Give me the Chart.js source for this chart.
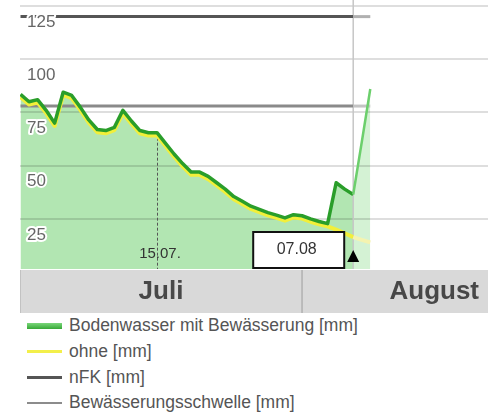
<!DOCTYPE html>
<html><head><meta charset="utf-8">
<script src="https://cdn.jsdelivr.net/npm/chart.js@4"></script>
<style>
html,body{margin:0;padding:0;background:#fff;}
#wrap{position:relative;width:488px;height:414px;overflow:hidden;background:#fff;}
canvas{display:block;}
#legend{position:absolute;left:0;top:313px;font-family:'Liberation Sans',Arial,sans-serif;font-size:17.5px;color:#555;}
.item{height:25.7px;display:flex;align-items:center;white-space:nowrap;}
.sw{display:inline-block;width:35px;margin-left:27px;margin-right:7px;}
</style></head>
<body><div id="wrap"><canvas id="c" width="488" height="313"></canvas><div id="legend"></div></div>
<script>
// ---- data ----
const dates = ['29.06','30.06','01.07','02.07','03.07','04.07','05.07','06.07','07.07','08.07','09.07','10.07','11.07','12.07','13.07','14.07','15.07','16.07','17.07','18.07','19.07','20.07','21.07','22.07','23.07','24.07','25.07','26.07','27.07','28.07','29.07','30.07','31.07','01.08','02.08','03.08','04.08','05.08','06.08','07.08','08.08','09.08'];
const withIrrigation = [83.5,80,81,76,70,84.5,83,77.5,71.5,67,66.5,68,76,71,66.5,65.5,65.5,60.5,55.5,51,47,47,45,42,39,35.5,33.3,31,29.5,28,26.8,25.5,27,26.5,25,23.8,22.8,42,39,36.5,61,86];
const withoutIrrigation = [82.2,78.7,79.7,74.7,68.7,83.2,81.7,76.2,70.2,65.7,65.2,66.7,74.7,69.7,65.2,64.2,64.2,59.2,54.2,49.7,45.7,45.7,43.7,40.7,37.7,34.2,32,29.7,28.2,26.7,25.5,24.2,25.7,25.2,23.7,22.5,21.5,20,18.3,16.5,15.2,14];
const nfkLevel = 120;
const thresholdLevel = 78;
const yTicks = [25,50,75,100,125];
const monthNames = ['Juli','August'];
const monthStarts = ['01.07','01.08'];
const monthEnds = ['01.08','01.09'];
const markerDate = '15.07';
const markerLabel = '15.07.';
const todayDate = '07.08';
const todayLabel = '07.08';
const legendLabels = ['Bodenwasser mit Bewässerung [mm]','ohne [mm]','nFK [mm]','Bewässerungsschwelle [mm]'];

// ---- helpers ----
function dayOf(s){const [dd,mm]=s.split('.').map(Number);return mm===6?dd-30:mm===7?dd:mm===8?31+dd:62+dd;}
const todayD = dayOf(todayDate);
const markerD = dayOf(markerDate);
const after = c => c.p0.parsed.x >= todayD;
const FONT = "'Liberation Sans', Arial, sans-serif";

const pts = arr => dates.map((d,i)=>({x:dayOf(d), y:arr[i]}));
const flat = v => dates.map(d=>({x:dayOf(d), y:v}));

const decor = {
  id:'decor',
  beforeDatasetsDraw(chart){
    const {ctx, chartArea:a, scales:{x,y}} = chart;
    ctx.save();
    const tx = x.getPixelForValue(todayD);
    ctx.strokeStyle='#c6c6c6'; ctx.lineWidth=1.5;
    ctx.beginPath(); ctx.moveTo(tx,a.top); ctx.lineTo(tx,a.bottom); ctx.stroke();
    const mx = x.getPixelForValue(markerD);
    const mv = withIrrigation[dates.indexOf(markerDate)];
    ctx.strokeStyle='#555'; ctx.lineWidth=1; ctx.setLineDash([3,2]);
    ctx.beginPath(); ctx.moveTo(Math.round(mx)+0.5,y.getPixelForValue(mv)); ctx.lineTo(Math.round(mx)+0.5,a.bottom); ctx.stroke();
    ctx.restore();
  },
  afterDatasetsDraw(chart){
    const {ctx, chartArea:a, scales:{y}} = chart;
    ctx.save();
    ctx.font = "17px " + FONT; ctx.textAlign='left'; ctx.textBaseline='middle';
    ctx.lineJoin='round'; ctx.strokeStyle='#fff'; ctx.lineWidth=4; ctx.fillStyle='#666';
    yTicks.forEach(v=>{
      const py = y.getPixelForValue(v) + 16;
      ctx.strokeText(String(v), a.left+7, py);
      ctx.fillText(String(v), a.left+7, py);
    });
    ctx.restore();
  },
  afterDraw(chart){
    const {ctx, chartArea:a, scales:{x}} = chart;
    ctx.save();
    // month band
    const top = a.bottom+1, h = chart.height - top;
    ctx.fillStyle='#d9d9d9'; ctx.fillRect(a.left, top, a.right-a.left, h);
    ctx.strokeStyle='#c2c2c2'; ctx.lineWidth=1;
    ctx.beginPath(); ctx.moveTo(a.left+0.5, top); ctx.lineTo(a.left+0.5, top+h); ctx.stroke();
    ctx.font = "bold 26px " + FONT; ctx.fillStyle='#484848'; ctx.textAlign='center'; ctx.textBaseline='middle';
    monthNames.forEach((m,i)=>{
      const s = i===0 ? a.left : x.getPixelForValue(dayOf(monthStarts[i]));
      const e = x.getPixelForValue(dayOf(monthEnds[i]));
      if (i>0) {
        ctx.strokeStyle='#b0b0b0'; ctx.lineWidth=1.5;
        ctx.beginPath(); ctx.moveTo(s, top); ctx.lineTo(s, top+h); ctx.stroke();
      }
      ctx.fillText(m, (s+e)/2, top + h/2);
    });
    // marker label
    const mx = x.getPixelForValue(markerD);
    ctx.font = "15px " + FONT; ctx.fillStyle='#333';
    ctx.fillText(markerLabel, mx+3, a.bottom-15);
    // today box + triangle
    const tx = x.getPixelForValue(todayD);
    const bx1 = tx-9, bx0 = bx1-91, by0 = a.bottom-37, by1 = a.bottom-1;
    ctx.fillStyle='#fff'; ctx.fillRect(bx0,by0,bx1-bx0,by1-by0);
    ctx.strokeStyle='#111'; ctx.lineWidth=2; ctx.strokeRect(bx0,by0,bx1-bx0,by1-by0);
    ctx.font = "16px " + FONT; ctx.fillStyle='#333';
    ctx.fillText(todayLabel, (bx0+bx1)/2-2, (by0+by1)/2);
    ctx.fillStyle='#000';
    ctx.beginPath(); ctx.moveTo(tx, a.bottom-19); ctx.lineTo(tx+6, a.bottom-7); ctx.lineTo(tx-6, a.bottom-7); ctx.closePath(); ctx.fill();
    ctx.restore();
  }
};

new Chart(document.getElementById('c'), {
  type:'line',
  data:{datasets:[
    {label:legendLabels[0], data:pts(withIrrigation), borderColor:'#2a9e2a', borderWidth:3.5, fill:'start', backgroundColor:'#b2e6b2', pointRadius:0, borderJoinStyle:'round',
     segment:{borderColor:c=>after(c)?'#6ccf6c':undefined, backgroundColor:c=>after(c)?'#d4f2d4':undefined, borderWidth:c=>after(c)?2.5:undefined}},
    {label:legendLabels[1], data:pts(withoutIrrigation), borderColor:'#f2ef3a', borderWidth:4, fill:false, pointRadius:0, borderJoinStyle:'round',
     segment:{borderColor:c=>after(c)?'#f4f3b0':undefined}},
    {label:legendLabels[3], data:flat(thresholdLevel), borderColor:'#8a8a8a', borderWidth:3, fill:false, pointRadius:0,
     segment:{borderColor:c=>after(c)?'#c4c4c4':undefined}},
    {label:legendLabels[2], data:flat(nfkLevel), borderColor:'#555', borderWidth:3, fill:false, pointRadius:0,
     segment:{borderColor:c=>after(c)?'#b0b0b0':undefined}}
  ]},
  options:{
    responsive:false, animation:false, devicePixelRatio:1,
    layout:{padding:{left:20,right:0,top:0,bottom:44}},
    plugins:{legend:{display:false}, tooltip:{enabled:false}, filler:{drawTime:'beforeDraw'}},
    scales:{
      x:{type:'linear', display:false, min:-1.06, max:53.8},
      y:{min:1.5, max:127.8, border:{display:false},
         grid:{color:'rgba(0,0,0,0.13)', lineWidth:2, drawTicks:false},
         ticks:{display:false, autoSkip:false},
         afterBuildTicks:s=>{s.ticks = yTicks.map(v=>({value:v}));}}
    }
  },
  plugins:[decor]
});

// HTML legend
const swatches = [
  'height:6px;background:linear-gradient(#7ad67a,#36a836);',
  'height:3px;background:#f3ef4a;',
  'height:3px;background:#555;',
  'height:2px;background:#8c8c8c;'
];
const lg = document.getElementById('legend');
legendLabels.forEach((t,i)=>{
  const it = document.createElement('div'); it.className='item';
  const sw = document.createElement('span'); sw.className='sw'; sw.style.cssText += swatches[i];
  const tx = document.createElement('span'); tx.textContent = t;
  it.appendChild(sw); it.appendChild(tx); lg.appendChild(it);
});
</script>
</body></html>
